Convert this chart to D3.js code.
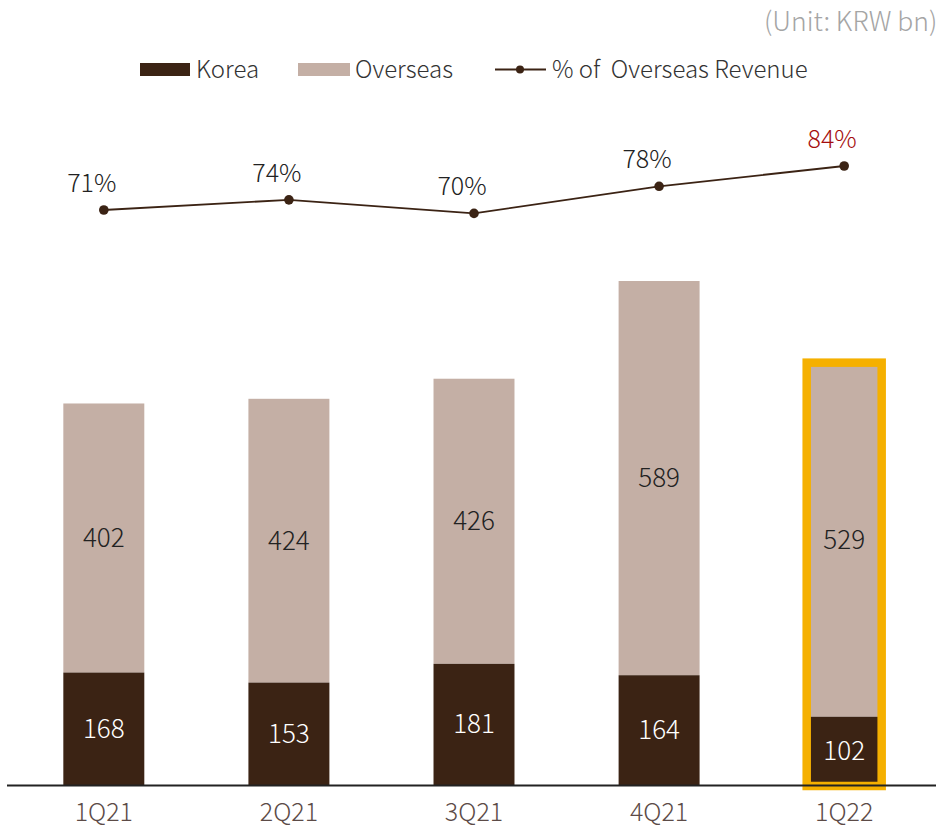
<!DOCTYPE html>
<html><head><meta charset="utf-8">
<script src="https://cdn.jsdelivr.net/npm/d3@7"></script>
<style>body{margin:0;background:#fff}svg{display:block}text{font-family:"Noto Sans CJK KR","Noto Sans",sans-serif;font-weight:300}</style>
</head><body>
<svg id="c" width="936" height="827"></svg>
<script>
const categories = ["1Q21","2Q21","3Q21","4Q21","1Q22"];
const korea = [168,153,181,164,102];
const overseas = [402,424,426,589,529];
const overseasPct = [71,74,70,78,84];
const highlightIndex = 4;

const svg = d3.select("#c");
const baseY = 785;
const cKorea = "#3b2314", cOver = "#c4afa5", cHi = "#f5b000";

const x = d3.scaleBand().domain(categories).range([11.5, 936.5]).paddingInner(0.5625).paddingOuter(0.28);
const y = d3.scaleLinear().domain([0, 753]).range([baseY, 281]);
const yp = d3.scaleLinear().domain([70, 84]).range([213.4, 166]);

// bars
const g = svg.append("g");
categories.forEach((c, i) => {
  const x0 = x(c), bw = x.bandwidth();
  g.append("rect").attr("x", x0).attr("width", bw)
    .attr("y", y(korea[i] + overseas[i])).attr("height", y(korea[i]) - y(korea[i] + overseas[i]))
    .attr("fill", cOver);
  g.append("rect").attr("x", x0).attr("width", bw)
    .attr("y", y(korea[i])).attr("height", baseY - y(korea[i]))
    .attr("fill", cKorea);
  g.append("text").attr("x", x0 + bw/2).attr("y", (y(korea[i]) + baseY)/2 + 9)
    .attr("text-anchor","middle").attr("font-size",26).attr("fill","#fff").text(korea[i]);
  g.append("text").attr("x", x0 + bw/2).attr("y", (y(korea[i]) + y(korea[i]+overseas[i]))/2 + 9)
    .attr("text-anchor","middle").attr("font-size",26).attr("fill","#222").text(overseas[i]);
});

// highlight
{
  const c = categories[highlightIndex], x0 = x(c), bw = x.bandwidth();
  const top = y(korea[highlightIndex] + overseas[highlightIndex]);
  svg.append("rect").attr("x", x0 + 3).attr("width", bw - 6)
    .attr("y", top).attr("height", baseY + 1 - top)
    .attr("fill","none").attr("stroke", cHi).attr("stroke-width", 8.5);
}

// axis
const xAxis = d3.axisBottom(x).tickSize(0).tickPadding(18);
const ax = svg.append("g").attr("transform", `translate(0,${baseY})`).call(xAxis);
ax.select(".domain").remove();
ax.selectAll(".tick text").attr("font-size", 25).attr("fill", "#5c4b47")
  .attr("font-family", '"Noto Sans CJK KR",sans-serif').attr("font-weight", 300);
svg.append("line").attr("x1", 7).attr("x2", 936).attr("y1", baseY + 0.5).attr("y2", baseY + 0.5)
  .attr("stroke", "#222").attr("stroke-width", 2);

// line
const line = d3.line().x((d,i) => x(categories[i]) + x.bandwidth()/2).y(d => yp(d));
svg.append("path").datum(overseasPct).attr("d", line).attr("fill","none").attr("stroke", cKorea).attr("stroke-width", 1.8);
svg.selectAll(".pt").data(overseasPct).enter().append("circle")
  .attr("cx", (d,i) => x(categories[i]) + x.bandwidth()/2).attr("cy", d => yp(d)).attr("r", 4.8).attr("fill", cKorea);
svg.selectAll(".pl").data(overseasPct).enter().append("text")
  .attr("x", (d,i) => x(categories[i]) + x.bandwidth()/2 - 12).attr("y", d => yp(d) - 18)
  .attr("text-anchor","middle").attr("font-size",25)
  .attr("fill", (d,i) => i === highlightIndex ? "#a50e0e" : "#222")
  .attr("font-weight", (d,i) => i === highlightIndex ? 500 : 300)
  .text(d => d + "%");

// legend
const lg = svg.append("g");
lg.append("rect").attr("x",140).attr("y",63).attr("width",50).attr("height",13).attr("fill",cKorea);
lg.append("text").attr("x",196).attr("y",78).attr("font-size",24).attr("fill","#333").text("Korea");
lg.append("rect").attr("x",298).attr("y",63).attr("width",52).attr("height",13).attr("fill",cOver);
lg.append("text").attr("x",355).attr("y",78).attr("font-size",24).attr("fill","#333").text("Overseas");
lg.append("line").attr("x1",495).attr("x2",546).attr("y1",69.5).attr("y2",69.5).attr("stroke",cKorea).attr("stroke-width",1.8);
lg.append("circle").attr("cx",520).attr("cy",69.5).attr("r",4).attr("fill",cKorea);
lg.append("text").attr("x",552).attr("y",78).attr("font-size",24).attr("fill","#333").attr("xml:space","preserve").text("% of  Overseas Revenue");

svg.append("text").attr("x",764).attr("y",31).attr("font-size",26.5).attr("fill","#a5a5a5").text("(Unit: KRW bn)");
</script>
</body></html>
